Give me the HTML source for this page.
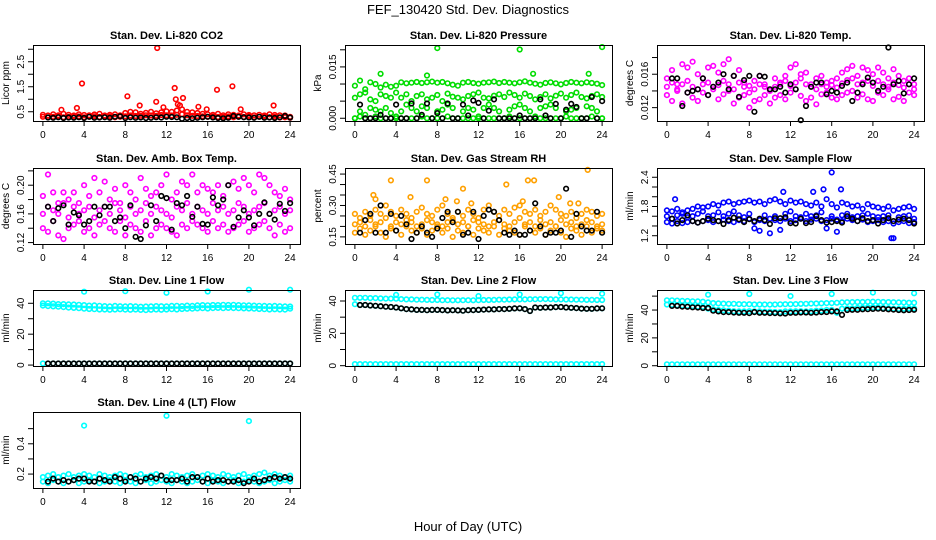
<!DOCTYPE html>
<html><head><meta charset="utf-8"><style>
html,body{margin:0;padding:0;background:#fff;}
svg{display:block;font-family:"Liberation Sans",Arial,sans-serif;}
</style></head><body>
<svg id="c" width="936" height="540" viewBox="0 0 936 540" xmlns="http://www.w3.org/2000/svg">
<text x="468" y="14" text-anchor="middle" font-size="13">FEF_130420  Std. Dev. Diagnostics</text>
<text x="468" y="531" text-anchor="middle" font-size="13">Hour of Day (UTC)</text>
</svg>
<script>
const hours49=[0,0.5,1,1.5,2,2.5,3,3.5,4,4.5,5,5.5,6,6.5,7,7.5,8,8.5,9,9.5,10,10.5,11,11.5,12,12.5,13,13.5,14,14.5,15,15.5,16,16.5,17,17.5,18,18.5,19,19.5,20,20.5,21,21.5,22,22.5,23,23.5,24];
const hours48=[0.5,1,1.5,2,2.5,3,3.5,4,4.5,5,5.5,6,6.5,7,7.5,8,8.5,9,9.5,10,10.5,11,11.5,12,12.5,13,13.5,14,14.5,15,15.5,16,16.5,17,17.5,18,18.5,19,19.5,20,20.5,21,21.5,22,22.5,23,23.5,24];
const xTicks=[0,4,8,12,16,20,24];

// P1 CO2
const co2A=[0.38,0.35,0.4,0.36,0.42,0.38,0.35,0.4,0.37,0.36,0.39,0.42,0.35,0.38,0.4,0.36,0.45,0.5,0.48,0.42,0.46,0.5,0.44,0.48,0.52,0.5,0.55,0.6,0.5,0.48,0.45,0.42,0.4,0.38,0.42,0.36,0.4,0.38,0.35,0.4,0.37,0.36,0.38,0.35,0.4,0.37,0.36,0.35,0.3];
const co2B=[0.3,0.28,0.3,0.32,0.28,0.3,0.29,0.31,0.28,0.3,0.32,0.29,0.3,0.31,0.28,0.3,0.32,0.35,0.33,0.34,0.36,0.35,0.34,0.37,0.36,0.35,0.38,0.4,0.36,0.34,0.33,0.32,0.3,0.31,0.29,0.3,0.31,0.28,0.3,0.29,0.31,0.28,0.3,0.29,0.28,0.3,0.27,0.28,0.26];
const co2OutH=[3.8,11.1,12.8,13.6,16.9,18.4,22.4,8.2,11,12.9,9.4,1.8,3.3,15.1,15.9,19.2,13.1,11.7,13.3];
const co2Out=[1.63,3.05,1.45,1.05,1.38,1.52,0.75,1.12,0.9,1.0,0.75,0.58,0.65,0.7,0.6,0.6,0.8,0.68,0.75];
const co2Black=[0.27,0.26,0.28,0.25,0.27,0.26,0.28,0.25,0.3,0.26,0.27,0.28,0.26,0.3,0.32,0.25,0.28,0.26,0.27,0.25,0.26,0.28,0.27,0.3,0.29,0.28,0.22,0.25,0.24,0.26,0.28,0.3,0.27,0.25,0.24,0.26,0.33,0.3,0.28,0.27,0.26,0.3,0.26,0.27,0.25,0.28,0.33,0.27];
// P2 Pressure
const presTop=[0.0095,0.011,0.0085,0.0105,0.01,0.009,0.0098,0.0092,0.0095,0.0105,0.0102,0.0104,0.0106,0.0103,0.0105,0.0107,0.0104,0.0106,0.0102,0.0098,0.0095,0.0104,0.0106,0.0103,0.0101,0.0104,0.0105,0.0107,0.0103,0.0106,0.0104,0.0102,0.0105,0.0108,0.0104,0.0101,0.0098,0.0103,0.0105,0.0102,0.0099,0.0103,0.0106,0.0104,0.0102,0.0105,0.0103,0.0101,0.0097];
const presMid=[0.006,0.007,0.0075,0.0055,0.005,0.007,0.0065,0.006,0.0075,0.006,0.007,0.005,0.0065,0.007,0.0055,0.006,0.0068,0.005,0.0072,0.0063,0.006,0.0055,0.0065,0.007,0.0075,0.006,0.0058,0.0066,0.007,0.0062,0.0075,0.0068,0.006,0.0072,0.0065,0.0055,0.0062,0.007,0.0058,0.0066,0.0072,0.006,0.0068,0.0075,0.0062,0.0058,0.0065,0.007,0.0062];
const presLow=[0.0,0.002,0.001,0.003,0.0025,0.002,0.003,0.0015,0.0,0.002,0.004,0.003,0.002,0.0035,0.003,0.0,0.002,0.0025,0.004,0.003,0.0,0.002,0.003,0.0025,0.0,0.003,0.004,0.003,0.002,0.0,0.0025,0.0035,0.004,0.003,0.002,0.0,0.003,0.0035,0.004,0.003,0.0,0.002,0.0025,0.003,0.0,0.0035,0.003,0.002,0.0];
const presZero=[0,0.0005,0,0,0.0005,0,0,0,0.0005,0,0,0,0,0.0005,0,0,0,0,0.0005,0,0,0,0,0,0.0005,0,0,0,0,0,0.0005,0,0,0,0,0.0005,0,0,0,0,0,0.0005,0,0,0,0,0.0005,0,0];
const presOutH=[8,16,24,2.5,7,17.3,22.7];
const presOut=[0.0205,0.0201,0.0208,0.013,0.0125,0.013,0.013];
const presBlack=[0.004,0,0,0,0.001,0,0,0.004,0,0,0.0043,0,0.001,0.0043,0,0.0015,0,0.0043,0,0,0.004,0.0008,0.0052,0.0045,0,0.0022,0.0055,0,0,0,0,0.0008,0,0,0,0.0055,0.0008,0,0.0042,0,0.0025,0.0042,0.0033,0,0,0.0062,0,0.005];
// P3 Li-820 Temp
const tempA=[0.0155,0.0165,0.0148,0.0172,0.0168,0.0175,0.016,0.0155,0.0168,0.017,0.0162,0.0172,0.0178,0.0158,0.0165,0.015,0.0146,0.0152,0.0158,0.0148,0.0142,0.0155,0.015,0.0158,0.0168,0.0172,0.016,0.0162,0.0148,0.0155,0.0158,0.0145,0.0152,0.0155,0.0162,0.0166,0.017,0.0158,0.0168,0.0165,0.016,0.0168,0.0162,0.0155,0.0166,0.0158,0.0152,0.0155,0.0148];
const tempB=[0.0135,0.0128,0.0142,0.0125,0.0138,0.0132,0.0128,0.0138,0.0135,0.0142,0.013,0.0136,0.014,0.0125,0.0132,0.0135,0.012,0.0128,0.013,0.0135,0.0125,0.0132,0.0135,0.013,0.0138,0.0142,0.0134,0.0128,0.0132,0.0124,0.0136,0.0138,0.0132,0.013,0.0135,0.0138,0.014,0.0132,0.0136,0.013,0.0128,0.0138,0.0135,0.0142,0.013,0.0133,0.0128,0.0138,0.0135];
const tempC=[0.0145,0.015,0.014,0.0148,0.0152,0.0145,0.0142,0.0148,0.015,0.0145,0.0147,0.0152,0.0148,0.0142,0.015,0.0145,0.0138,0.0142,0.0148,0.0145,0.014,0.0145,0.0148,0.0152,0.0146,0.015,0.0155,0.0148,0.0145,0.0142,0.0148,0.015,0.0147,0.0144,0.0149,0.0153,0.0155,0.0148,0.015,0.0152,0.0146,0.0152,0.0148,0.0145,0.015,0.0147,0.0144,0.0148,0.0142];
const tempBlack=[0.0155,0.0155,0.0122,0.0138,0.014,0.0142,0.0155,0.0135,0.0145,0.015,0.016,0.0142,0.0158,0.0133,0.0153,0.0158,0.0115,0.0158,0.0157,0.0142,0.0142,0.0145,0.0138,0.0148,0.0142,0.0105,0.0122,0.0145,0.015,0.015,0.0136,0.014,0.0138,0.0146,0.015,0.0128,0.0138,0.0148,0.0156,0.015,0.014,0.0145,0.0192,0.0148,0.0152,0.0137,0.0148,0.0155];
// P4 Amb Box Temp
const ambA=[0.185,0.215,0.19,0.175,0.19,0.18,0.19,0.175,0.2,0.185,0.21,0.19,0.205,0.18,0.195,0.175,0.2,0.19,0.18,0.21,0.195,0.185,0.19,0.2,0.215,0.18,0.19,0.205,0.2,0.215,0.19,0.2,0.195,0.19,0.2,0.185,0.2,0.205,0.195,0.21,0.2,0.19,0.215,0.21,0.2,0.19,0.185,0.195,0.18];
const ambB=[0.14,0.135,0.15,0.13,0.125,0.14,0.145,0.15,0.135,0.14,0.13,0.145,0.15,0.14,0.135,0.15,0.13,0.145,0.14,0.135,0.15,0.13,0.14,0.145,0.14,0.135,0.13,0.145,0.14,0.15,0.145,0.14,0.135,0.15,0.14,0.145,0.135,0.14,0.145,0.15,0.135,0.14,0.145,0.15,0.14,0.13,0.145,0.135,0.14];
const ambC=[0.16,0.17,0.165,0.16,0.175,0.155,0.17,0.16,0.165,0.17,0.155,0.165,0.17,0.16,0.175,0.165,0.155,0.17,0.16,0.165,0.175,0.16,0.17,0.165,0.16,0.155,0.17,0.165,0.175,0.16,0.17,0.165,0.16,0.175,0.165,0.17,0.16,0.165,0.175,0.17,0.16,0.165,0.17,0.175,0.16,0.165,0.17,0.16,0.165];
const ambBlack=[0.17,0.15,0.168,0.172,0.145,0.162,0.158,0.145,0.15,0.17,0.158,0.17,0.17,0.15,0.155,0.14,0.172,0.128,0.125,0.144,0.172,0.15,0.185,0.182,0.138,0.175,0.172,0.185,0.156,0.17,0.146,0.145,0.183,0.172,0.18,0.2,0.142,0.155,0.165,0.155,0.144,0.16,0.176,0.16,0.152,0.174,0.164,0.175];
// P5 Gas Stream RH
const rhA=[0.26,0.24,0.27,0.25,0.28,0.26,0.3,0.27,0.25,0.28,0.26,0.24,0.27,0.29,0.26,0.25,0.28,0.3,0.26,0.24,0.27,0.25,0.28,0.26,0.24,0.28,0.3,0.27,0.25,0.28,0.26,0.29,0.3,0.27,0.26,0.28,0.25,0.27,0.3,0.28,0.26,0.25,0.27,0.24,0.26,0.28,0.27,0.25,0.26];
const rhB=[0.17,0.19,0.16,0.18,0.2,0.17,0.15,0.19,0.18,0.16,0.2,0.18,0.17,0.19,0.16,0.18,0.2,0.17,0.19,0.15,0.18,0.17,0.2,0.16,0.19,0.18,0.17,0.2,0.16,0.19,0.18,0.17,0.16,0.2,0.18,0.17,0.19,0.16,0.18,0.2,0.17,0.15,0.19,0.18,0.16,0.2,0.17,0.19,0.18];
const rhC=[0.21,0.22,0.2,0.23,0.21,0.22,0.24,0.2,0.22,0.21,0.23,0.22,0.2,0.21,0.23,0.22,0.21,0.2,0.22,0.23,0.21,0.22,0.2,0.23,0.22,0.21,0.2,0.22,0.23,0.21,0.2,0.22,0.24,0.21,0.22,0.2,0.23,0.21,0.22,0.2,0.23,0.21,0.22,0.2,0.21,0.23,0.22,0.2,0.21];
const rhOutH=[3.5,7,10.5,14.7,16.8,17.4,22.6,5.4,8.8,9.9,2,1.8,19.8,20.9,21.7,16.3,11.3];
const rhOut=[0.42,0.42,0.38,0.4,0.42,0.42,0.47,0.34,0.33,0.32,0.33,0.35,0.34,0.31,0.31,0.32,0.31];
const rhBlack=[0.17,0.23,0.26,0.17,0.3,0.17,0.26,0.18,0.25,0.21,0.14,0.17,0.2,0.17,0.15,0.19,0.24,0.27,0.22,0.27,0.16,0.17,0.27,0.14,0.25,0.28,0.27,0.23,0.17,0.16,0.18,0.16,0.16,0.18,0.31,0.2,0.16,0.17,0.17,0.18,0.38,0.15,0.26,0.2,0.18,0.18,0.27,0.17];
// P6 Sample Flow
const sfA=[1.72,1.7,1.75,1.68,1.72,1.75,1.8,1.78,1.8,1.85,1.82,1.88,1.9,1.85,1.88,1.9,1.92,1.88,1.9,1.85,1.92,1.95,1.9,1.85,1.92,1.88,1.9,1.85,1.82,1.88,1.8,1.95,1.85,1.78,1.88,1.85,1.8,1.82,1.75,1.85,1.8,1.78,1.75,1.8,1.72,1.75,1.78,1.8,1.75];
const sfB=[1.48,1.45,1.5,1.46,1.48,1.5,1.47,1.5,1.52,1.48,1.5,1.53,1.5,1.48,1.52,1.5,1.55,1.48,1.52,1.5,1.55,1.52,1.5,1.55,1.5,1.52,1.55,1.5,1.53,1.55,1.5,1.52,1.55,1.53,1.5,1.55,1.52,1.5,1.53,1.48,1.5,1.52,1.48,1.5,1.45,1.48,1.5,1.46,1.48];
const sfC=[1.6,1.55,1.62,1.65,1.58,1.6,1.65,1.7,1.6,1.62,1.68,1.6,1.65,1.7,1.62,1.58,1.65,1.35,1.3,1.62,1.25,1.6,1.32,1.65,1.7,1.6,1.58,1.65,1.6,1.62,1.68,1.35,1.6,1.28,1.62,1.65,1.58,1.6,1.62,1.65,1.6,1.58,1.6,1.62,1.15,1.58,1.6,1.62,1.55];
const sfOutH=[16,14.2,15.2,16.9,11.3,0.8,21.8];
const sfOut=[2.5,2.1,2.15,2.15,2.1,1.95,1.15];
const sfBlack=[1.55,1.45,1.52,1.62,1.5,1.47,1.5,1.55,1.52,1.5,1.44,1.52,1.57,1.54,1.48,1.54,1.5,1.55,1.52,1.44,1.56,1.56,1.58,1.46,1.45,1.55,1.46,1.48,1.6,1.52,1.47,1.48,1.5,1.47,1.6,1.55,1.5,1.56,1.5,1.52,1.45,1.52,1.56,1.5,1.53,1.55,1.52,1.45];
// P7 Line 1
const l1A=[40,40,39.8,39.5,39.5,39.3,39.2,39,38.8,38.5,38.6,38.4,38.2,38,38.3,38.1,38,38.2,38,37.8,37.9,38,38.2,38.1,38,38.3,38.4,38.2,38.5,38.3,38.6,38.8,38.7,38.9,38.8,39,38.9,39,38.8,38.7,38.6,38.5,38.4,38.3,38.2,38.3,38.1,38,37.9];
const l1B=[38.5,38.2,38,37.8,37.5,37.2,37,36.8,36.5,36.3,36.2,36,36,35.8,36,36.1,35.9,35.8,36,35.7,35.6,35.8,36,35.8,36,36.2,36,36.3,36.4,36.5,36.7,36.8,36.6,36.9,37,36.8,37,36.9,36.8,36.7,36.6,36.5,36.3,36.2,36,36.1,36,35.9,36.5];
const l1Zero=[1,1,1,1,1,1,1,1,1,1,1,1,1,1,1,1,1,1,1,1,1,1,1,1,1,1,1,1,1,1,1,1,1,1,1,1,1,1,1,1,1,1,1,1,1,1,1,1,1];
const l1OutH=[4,8,12,16,20,24];
const l1Out=[47.5,47.8,46.8,47.6,48.8,48.8];
const l1Black=[1,1,1,1,1,1,1,1,1,1,1,1,1,1,1,1,1,1,1,1,1,1,1,1,1,1,1,1,1,1,1,1,1,1,1,1,1,1,1,1,1,1,1,1,1,1,1,1];
// P8 Line 2
const l2A=[42,42,42,41.8,41.8,41.6,41.5,41.5,41.4,41.2,41,41,40.8,40.8,40.7,40.6,40.6,40.5,40.5,40.4,40.4,40.5,40.5,40.4,40.5,40.6,40.6,40.7,40.8,40.8,40.9,41,41,41,41.1,41.1,41.2,41.2,41.1,41,41,40.9,40.9,40.8,40.8,40.7,40.7,40.6,40.6];
const l2B=[38,37.5,37.5,37.2,37,36.8,36.5,36.3,36,35.5,35,34.8,34.5,34.5,34.3,34.5,34.5,34.4,34.2,34.3,34.2,34,34.3,34.4,34.5,34.7,34.8,34.8,35,35,35.2,35.4,35.5,35,33.8,36,35.8,36,36,36.2,36.3,36,35.8,35.6,35.3,35.2,35.2,35.4,35.5];
const l2OutH=[4,8,12,16,20,24];
const l2Out=[43.8,44,43,44,44.8,44.5];
const l2Black=[37.5,37.5,37.2,37,36.8,36.5,36.3,36,35.5,35,34.8,34.5,34.5,34.3,34.5,34.5,34.4,34.2,34.3,34.2,34,34.3,34.4,34.5,34.7,34.8,34.8,35,35,35.2,35.4,35.5,35,33.8,36,35.8,36,36,36.2,36.3,36,35.8,35.6,35.3,35.2,35.2,35.4,35.5];
// P9 Line 3
const l3A=[47,47,46.8,46.6,46.5,46.3,46.2,46,45.5,45,44.8,44.6,44.5,44.5,44.3,44.2,44.2,44,44,44,43.9,44,44.1,44.2,44.2,44.3,44.4,44.5,44.6,44.7,44.8,45,45,45.2,45.5,45.6,45.7,45.8,45.8,45.9,46,45.9,45.8,45.7,45.6,45.5,45.4,45.3,45.3];
const l3B=[44,43.8,43.5,43.3,43,42.8,42.5,42.3,41,40.5,40,39.8,39.5,39.2,39,39,39.2,39,39,38.8,38.8,38.6,38.5,39,39,39.2,39.2,39,39.2,39.5,39.6,40,40,38,41,41.2,41.2,41.5,41.6,41.8,42,41.8,41.5,41.3,41,40.8,41,41.2,41.2];
const l3OutH=[4,8,12,16,20,24];
const l3Out=[51,51.5,50,51.5,52.5,52];
const l3Black=[43,43,42.5,42.3,42,41.8,41.5,41.5,39.5,39,38.5,38.5,38.2,38,38,37.8,38.5,38,38,37.8,37.8,37.6,37.5,38,38,38.2,38.2,38,38.2,38.5,38.6,39,39,36.5,40,40.2,40.2,40.5,40.6,40.8,41,40.8,40.5,40.3,40,39.8,40,40.2];
// P10 Line 4
const l4A=[0.18,0.19,0.2,0.18,0.19,0.2,0.18,0.19,0.2,0.19,0.18,0.2,0.19,0.18,0.19,0.2,0.19,0.18,0.19,0.2,0.18,0.19,0.2,0.19,0.18,0.2,0.19,0.18,0.19,0.2,0.18,0.19,0.2,0.19,0.18,0.2,0.19,0.18,0.19,0.2,0.18,0.19,0.2,0.21,0.19,0.2,0.19,0.18,0.19];
const l4B=[0.15,0.14,0.16,0.15,0.14,0.15,0.16,0.14,0.15,0.16,0.15,0.14,0.15,0.16,0.15,0.14,0.16,0.15,0.14,0.15,0.16,0.14,0.15,0.16,0.15,0.14,0.16,0.15,0.14,0.15,0.16,0.15,0.14,0.16,0.15,0.14,0.15,0.16,0.14,0.15,0.16,0.15,0.14,0.15,0.16,0.14,0.15,0.16,0.15];
const l4OutH=[4,12,20];
const l4Out=[0.52,0.585,0.55];
const l4Black=[0.15,0.17,0.15,0.16,0.15,0.16,0.17,0.17,0.15,0.15,0.17,0.16,0.15,0.18,0.17,0.15,0.18,0.17,0.15,0.17,0.18,0.17,0.19,0.16,0.16,0.16,0.17,0.15,0.18,0.18,0.15,0.17,0.15,0.16,0.16,0.15,0.15,0.16,0.14,0.15,0.17,0.15,0.16,0.17,0.18,0.17,0.18,0.17];

const svg=document.getElementById('c');
const NS='http://www.w3.org/2000/svg';
function mk(tag,attrs,parent){const e=document.createElementNS(NS,tag);for(const k in attrs)e.setAttribute(k,attrs[k]);(parent||svg).appendChild(e);return e;}

const colL=[33,345,657], rowT=[45,168,290,412], W=267, H=76;
const panels=[
 {id:'co2',t:'Stan. Dev. Li-820 CO2',yl:'Licor ppm',c:0,r:0,lo:0.13,hi:3.17,ticks:[0.5,1,1.5,2,2.5,3],labs:[0.5,1.5,2.5],col:'#ff0000',
  ser:[[hours49,co2A],[hours49,co2B],[co2OutH,co2Out]],blk:[hours48,co2Black]},
 {id:'pressure',t:'Stan. Dev. Li-820 Pressure',yl:'kPa',c:1,r:0,lo:-0.0008,hi:0.0214,ticks:[0,0.005,0.01,0.015,0.02],labs:[0,0.015],fmt:3,col:'#00dd00',
  ser:[[hours49,presTop],[hours49,presMid],[hours49,presLow],[hours49,presZero],[presOutH,presOut]],blk:[hours48,presBlack]},
 {id:'li820-temp',t:'Stan. Dev. Li-820 Temp.',yl:'degrees C',c:2,r:0,lo:0.0104,hi:0.0195,ticks:[0.012,0.014,0.016,0.018],labs:[0.012,0.016],fmt:3,col:'#ff00ff',
  ser:[[hours49,tempA],[hours49,tempB],[hours49,tempC]],blk:[hours48,tempBlack]},
 {id:'amb-temp',t:'Stan. Dev. Amb. Box Temp.',yl:'degrees C',c:0,r:1,lo:0.118,hi:0.224,ticks:[0.12,0.14,0.16,0.18,0.2,0.22],labs:[0.12,0.16,0.2],fmt:2,col:'#ff00ff',
  ser:[[hours49,ambA],[hours49,ambB],[hours49,ambC]],blk:[hours48,ambBlack]},
 {id:'rh',t:'Stan. Dev. Gas Stream RH',yl:'percent',c:1,r:1,lo:0.116,hi:0.479,ticks:[0.15,0.2,0.25,0.3,0.35,0.4,0.45],labs:[0.15,0.3,0.45],fmt:2,col:'#ffa000',
  ser:[[hours49,rhA],[hours49,rhB],[hours49,rhC],[rhOutH,rhOut]],blk:[hours48,rhBlack]},
 {id:'sample-flow',t:'Stan. Dev. Sample Flow',yl:'ml/min',c:2,r:1,lo:1.03,hi:2.59,ticks:[1.2,1.4,1.6,1.8,2,2.2,2.4],labs:[1.2,1.8,2.4],fmt:1,col:'#0000ff',
  ser:[[hours49,sfA],[hours49,sfB],[hours49,sfC],[sfOutH,sfOut]],blk:[hours48,sfBlack]},
 {id:'line1',t:'Stan. Dev. Line 1 Flow',yl:'ml/min',c:0,r:2,lo:-0.6,hi:48.6,ticks:[0,10,20,30,40],labs:[0,20,40],col:'#00ffff',
  ser:[[hours49,l1A],[hours49,l1B],[hours49,l1Zero],[l1OutH,l1Out]],blk:[hours48,l1Black]},
 {id:'line2',t:'Stan. Dev. Line 2 Flow',yl:'ml/min',c:1,r:2,lo:-0.2,hi:46.8,ticks:[0,10,20,30,40],labs:[0,20,40],col:'#00ffff',
  ser:[[hours49,l2A],[hours49,l2B],[hours49,l1Zero],[l2OutH,l2Out]],blk:[hours48,l2Black]},
 {id:'line3',t:'Stan. Dev. Line 3 Flow',yl:'ml/min',c:2,r:2,lo:-0.2,hi:54.4,ticks:[0,10,20,30,40,50],labs:[0,20,40],col:'#00ffff',
  ser:[[hours49,l3A],[hours49,l3B],[hours49,l1Zero],[l3OutH,l3Out]],blk:[hours48,l3Black]},
 {id:'line4',t:'Stan. Dev. Line 4 (LT) Flow',yl:'ml/min',c:0,r:3,lo:0.108,hi:0.61,ticks:[0.1,0.2,0.3,0.4,0.5],labs:[0.2,0.4],fmt:1,col:'#00ffff',
  ser:[[hours49,l4A],[hours49,l4B],[l4OutH,l4Out]],blk:[hours48,l4Black]}
];

panels.forEach(p=>{
  const L=colL[p.c],T=rowT[p.r],B=T+H,R=L+W;
  const xs=h=>L+W*(h+0.96)/25.92;
  const ys=v=>B-H*(v-p.lo)/(p.hi-p.lo);
  const g=mk('g',{});
  
  
  const tt=mk('text',{x:L+W/2,y:T-6,'text-anchor':'middle','font-size':'11','font-weight':'bold'},g);
  tt.textContent=p.t;
  
  
  const yl=mk('text',{transform:`translate(${L-24},${T+H/2}) rotate(-90)`,'text-anchor':'middle','font-size':'10'},g);
  yl.textContent=p.yl;
  
  
  // points
  const pts=mk('g',{fill:'none',stroke:p.col,'stroke-width':'1.6'},g);
  
  
  p.ser.forEach(s=>{s[0].forEach((h,i)=>{const v=s[1][i];if(v===undefined)return;
    const cc=mk('circle',{cx:xs(h).toFixed(1),cy:ys(v).toFixed(1),r:'2.3'},pts);
    
    });});
  const bk=mk('g',{fill:'none',stroke:'#000','stroke-width':'1.6'},g);
  
  
  p.blk[0].forEach((h,i)=>{const v=p.blk[1][i];
    const cc=mk('circle',{cx:xs(h).toFixed(1),cy:ys(v).toFixed(1),r:'2.3'},bk);
    
    });
  // box
  const bx=mk('rect',{x:L+0.5,y:T+0.5,width:W,height:H,fill:'none',stroke:'#000','stroke-width':'1'},g);
  
  
  // x axis
  const xa=mk('g',{stroke:'#000','stroke-width':'1'},g);
  
  
  mk('line',{x1:xs(0),x2:xs(24),y1:B+0.5,y2:B+0.5},xa);
  xTicks.forEach(t=>{const x=xs(t);mk('line',{x1:x,x2:x,y1:B,y2:B+5},xa);
    const lt=mk('text',{x:x,y:B+17,'text-anchor':'middle','font-size':'10',stroke:'none'},xa);lt.textContent=t;});
  // y axis
  const ya=mk('g',{stroke:'#000','stroke-width':'1'},g);
  
  
  const tv=p.ticks.filter(t=>t>=p.lo&&t<=p.hi);
  mk('line',{x1:L+0.5,x2:L+0.5,y1:ys(tv[0]),y2:ys(tv[tv.length-1])},ya);
  tv.forEach(t=>{const y=ys(t);mk('line',{x1:L-5,x2:L,y1:y,y2:y},ya);});
  p.labs.forEach(t=>{const y=ys(t);const s=p.fmt!==undefined?t.toFixed(p.fmt):String(t);
    const lt=mk('text',{transform:`translate(${L-9},${y}) rotate(-90)`,'text-anchor':'middle','font-size':'10',stroke:'none'},ya);lt.textContent=s;});
});
</script>
</body></html>
